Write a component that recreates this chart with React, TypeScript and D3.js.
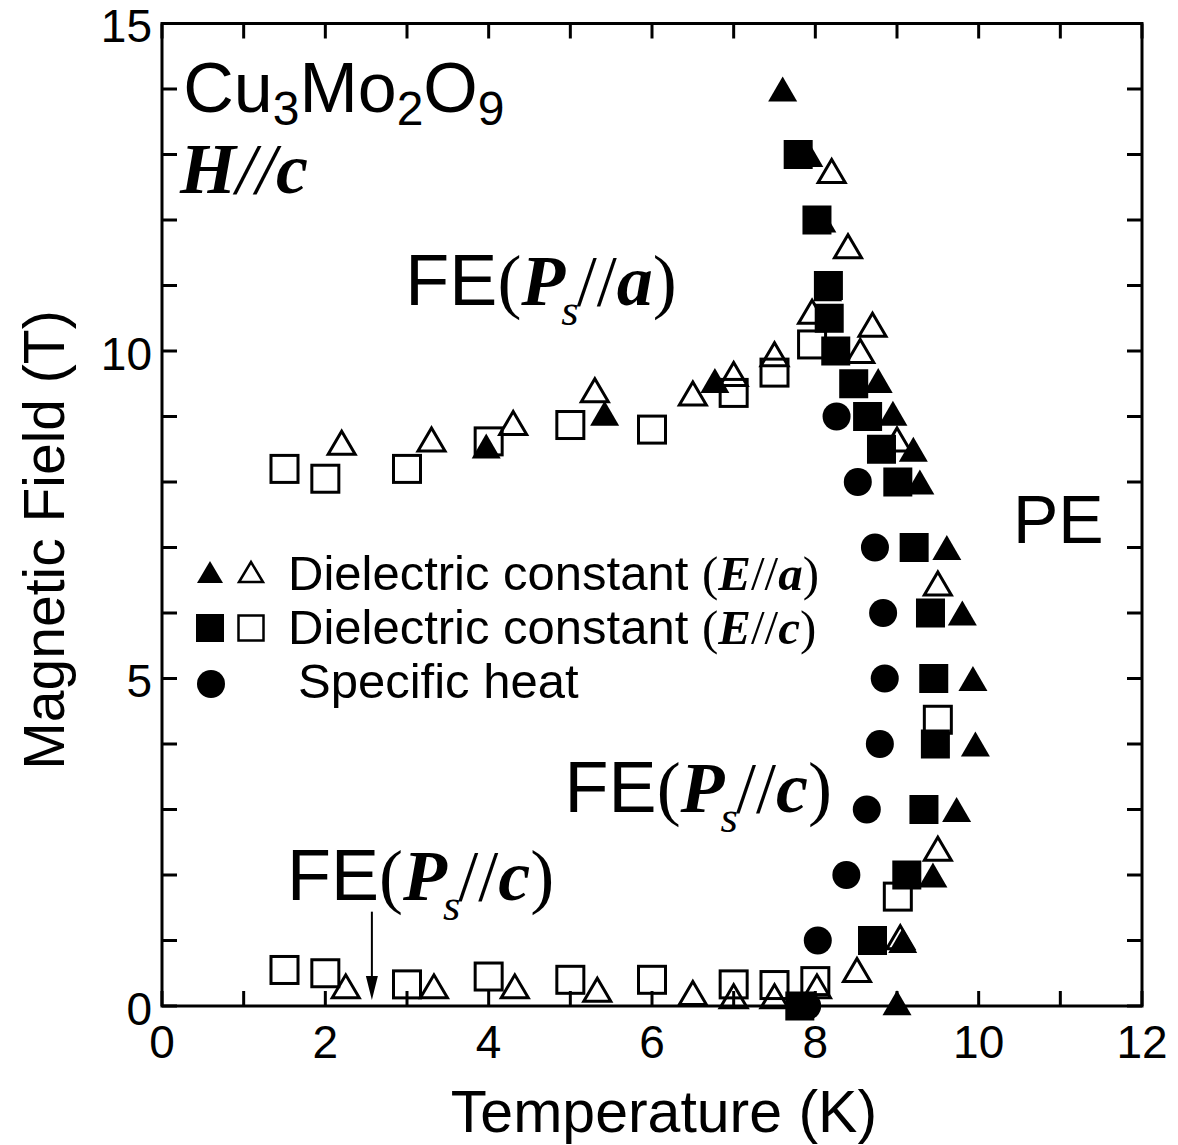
import React from "react";
import * as d3 from "d3";

// ---- data (T in K, H in Tesla) ----
const filledTriT = [7.6, 7.92, 8.08, 8.15, 6.77, 5.42, 3.97, 8.77, 8.95, 9.2, 9.28, 9.61, 9.8, 9.93, 9.96, 9.73, 9.44, 9.07, 9.0];
const filledTriH = [14.0, 13.0, 12.0, 10.95, 9.55, 9.05, 8.55, 9.55, 9.05, 8.5, 8.0, 7.0, 6.0, 5.0, 4.0, 3.0, 2.0, 1.0, 0.05];

const openTriT = [8.2, 8.4, 7.96, 8.7, 8.55, 7.5, 7.0, 6.5, 5.3, 4.3, 3.3, 2.2, 9.0, 9.5, 9.5, 9.04, 8.51, 8.02, 7.5, 7.0, 6.5, 5.33, 4.32, 3.33, 2.25];
const openTriH = [12.75, 11.6, 10.6, 10.4, 10.0, 9.95, 9.65, 9.35, 9.4, 8.9, 8.65, 8.6, 8.65, 6.45, 2.4, 1.05, 0.55, 0.3, 0.15, 0.15, 0.2, 0.25, 0.3, 0.3, 0.3];

const filledSqT = [7.79, 8.02, 8.16, 8.17, 8.25, 8.47, 8.64, 8.81, 9.01, 9.21, 9.41, 9.45, 9.47, 9.33, 9.12, 8.7, 7.81];
const filledSqH = [13, 12, 11, 10.5, 10, 9.5, 9, 8.5, 8, 7, 6, 5, 4, 3, 2, 1, 0];

const openSqT = [1.5, 2.0, 3.0, 4.0, 5.0, 6.0, 7.0, 7.5, 7.96, 9.5, 9.01, 1.5, 2.0, 3.0, 4.0, 5.0, 6.0, 7.0, 7.5, 8.0];
const openSqH = [8.2, 8.05, 8.2, 8.62, 8.87, 8.8, 9.36, 9.67, 10.1, 4.37, 1.67, 0.55, 0.5, 0.33, 0.45, 0.4, 0.4, 0.33, 0.32, 0.38];

const circleT = [8.26, 8.52, 8.73, 8.83, 8.85, 8.79, 8.63, 8.38, 8.03, 7.9];
const circleH = [9, 8, 7, 6, 5, 4, 3, 2, 1, 0];

const xTickLabels = [0, 2, 4, 6, 8, 10, 12];
const yTickLabels = [0, 5, 10, 15];

const arrowT = 2.57;
const arrowH = [1.44, 0.09];

const W = 1178;
const H = 1145;
const SANS = "'Liberation Sans', Arial, Helvetica, sans-serif";
const SERIF = "'Liberation Serif', 'Times New Roman', Times, serif";

const x = d3.scaleLinear().domain([0, 12]).range([162, 1142]);
const y = d3.scaleLinear().domain([0, 15]).range([1006, 23.5]);

const triPath = (cx: number, cy: number, w: number, h: number) =>
  `M${cx - w / 2},${cy + h / 2}L${cx + w / 2},${cy + h / 2}L${cx},${cy - h / 2}Z`;

const zip = (a: number[], b: number[]) => a.map((v, i) => [v, b[i]] as [number, number]);

function FELabel({ px, py, fs, axis }: { px: number; py: number; fs: number; axis: string }) {
  const sub = fs * 0.62;
  const dy = fs * 0.28;
  return (
    <text x={px} y={py} fontSize={fs} fill="#000">
      <tspan fontFamily={SANS}>FE</tspan>
      <tspan fontFamily={SERIF}>(</tspan>
      <tspan fontFamily={SERIF} fontStyle="italic" fontWeight="bold">P</tspan>
      <tspan fontFamily={SERIF} fontStyle="italic" fontSize={sub} dy={dy} dx={-4}>s</tspan>
      <tspan fontFamily={SERIF} fontSize={fs} dy={-dy} dx={-2}>//</tspan>
      <tspan fontFamily={SERIF} fontStyle="italic" fontWeight="bold">{axis}</tspan>
      <tspan fontFamily={SERIF}>)</tspan>
    </text>
  );
}

export default function App() {
  const xMinor = d3.range(0, 13, 1);
  const yMinor = d3.range(0, 16, 1);
  const tick = 15;
  const [x0, x1] = x.range();
  const [y0, y1] = y.range();

  const triW = 27, triH = 23, sq = 29, sqOpen = 27, r = 14;

  const legendRows = [
    { my: 572, ty: 590, kind: "tri", label: "a" },
    { my: 628, ty: 644, kind: "sq", label: "c" },
  ];

  return (
    <svg width={W} height={H} style={{ position: "absolute", left: 0, top: 0, background: "#fff" }}>
      <rect x={0} y={0} width={W} height={H} fill="#fff" />
      {/* frame */}
      <rect x={x0} y={y1} width={x1 - x0} height={y0 - y1} fill="none" stroke="#000" strokeWidth={3} />
      {/* ticks */}
      {xMinor.map((t) => (
        <g key={"xt" + t}>
          <line x1={x(t)} x2={x(t)} y1={y0} y2={y0 - tick} stroke="#000" strokeWidth={3} />
          <line x1={x(t)} x2={x(t)} y1={y1} y2={y1 + tick} stroke="#000" strokeWidth={3} />
        </g>
      ))}
      {yMinor.map((t) => (
        <g key={"yt" + t}>
          <line x1={x0} x2={x0 + tick} y1={y(t)} y2={y(t)} stroke="#000" strokeWidth={3} />
          <line x1={x1} x2={x1 - tick} y1={y(t)} y2={y(t)} stroke="#000" strokeWidth={3} />
        </g>
      ))}
      {/* tick labels */}
      {xTickLabels.map((t) => (
        <text key={"xl" + t} x={x(t)} y={1058} textAnchor="middle" fontFamily={SANS} fontSize={46}>
          {t}
        </text>
      ))}
      {yTickLabels.map((t) => (
        <text key={"yl" + t} x={152} y={y(t) + 2} dy="0.36em" textAnchor="end" fontFamily={SANS} fontSize={46}>
          {t}
        </text>
      ))}
      {/* axis titles */}
      <text x={664} y={1132} textAnchor="middle" fontFamily={SANS} fontSize={59}>
        Temperature (K)
      </text>
      <text transform={`translate(64,540) rotate(-90)`} textAnchor="middle" fontFamily={SANS} fontSize={57}>
        Magnetic Field (T)
      </text>

      {/* data: open squares */}
      {zip(openSqT, openSqH).map(([t, h], i) => (
        <rect key={"os" + i} x={x(t) - sqOpen / 2} y={y(h) - sqOpen / 2} width={sqOpen} height={sqOpen}
          fill="none" stroke="#000" strokeWidth={3} />
      ))}
      {/* open triangles */}
      {zip(openTriT, openTriH).map(([t, h], i) => (
        <path key={"ot" + i} d={triPath(x(t), y(h), triW, triH)} fill="none" stroke="#000" strokeWidth={3}
          strokeLinejoin="miter" />
      ))}
      {/* filled triangles */}
      {zip(filledTriT, filledTriH).map(([t, h], i) => (
        <path key={"ft" + i} d={triPath(x(t), y(h), triW + 2, triH + 2)} fill="#000" />
      ))}
      {/* filled squares */}
      {zip(filledSqT, filledSqH).map(([t, h], i) => (
        <rect key={"fs" + i} x={x(t) - sq / 2} y={y(h) - sq / 2} width={sq} height={sq} fill="#000" />
      ))}
      {/* circles */}
      {zip(circleT, circleH).map(([t, h], i) => (
        <circle key={"c" + i} cx={x(t)} cy={y(h)} r={r} fill="#000" />
      ))}

      {/* arrow */}
      <line x1={x(arrowT)} x2={x(arrowT)} y1={y(arrowH[0])} y2={y(arrowH[1]) - 20} stroke="#000" strokeWidth={2} />
      <path d={`M${x(arrowT) - 6},${y(arrowH[1]) - 24}L${x(arrowT) + 6},${y(arrowH[1]) - 24}L${x(arrowT)},${y(arrowH[1])}Z`} fill="#000" />

      {/* annotations */}
      <text x={x(0.26)} y={y(13.65)} fontFamily={SANS} fontSize={70}>
        Cu<tspan fontSize={48} dy={13}>3</tspan>
        <tspan dy={-13}>Mo</tspan>
        <tspan fontSize={48} dy={13}>2</tspan>
        <tspan dy={-13}>O</tspan>
        <tspan fontSize={48} dy={13}>9</tspan>
      </text>
      <text x={x(0.22)} y={y(12.41)} fontFamily={SERIF} fontStyle="italic" fontWeight="bold" fontSize={72}>
        H<tspan fontWeight="normal">//</tspan>c
      </text>
      <FELabel px={x(2.98)} py={y(10.7)} fs={72} axis="a" />
      <FELabel px={x(4.93)} py={y(2.96)} fs={72} axis="c" />
      <FELabel px={x(1.53)} py={y(1.62)} fs={72} axis="c" />
      <text x={x(10.42)} y={y(7.07)} fontFamily={SANS} fontSize={68}>PE</text>

      {/* legend */}
      {legendRows.map((row) => (
        <g key={row.label}>
          {row.kind === "tri" ? (
            <>
              <path d={triPath(210, row.my, 26, 22)} fill="#000" />
              <path d={triPath(251, row.my, 24, 20)} fill="none" stroke="#000" strokeWidth={2.5} />
            </>
          ) : (
            <>
              <rect x={210 - 14} y={row.my - 14} width={28} height={28} fill="#000" />
              <rect x={251 - 12.5} y={row.my - 12.5} width={25} height={25} fill="none" stroke="#000" strokeWidth={2.5} />
            </>
          )}
          <text x={288} y={row.ty} fontSize={49}>
            <tspan fontFamily={SANS}>Dielectric constant </tspan>
            <tspan fontFamily={SERIF}>(</tspan>
            <tspan fontFamily={SERIF} fontStyle="italic" fontWeight="bold">E</tspan>
            <tspan fontFamily={SERIF}>//</tspan>
            <tspan fontFamily={SERIF} fontStyle="italic" fontWeight="bold">{row.label}</tspan>
            <tspan fontFamily={SERIF}>)</tspan>
          </text>
        </g>
      ))}
      <circle cx={211} cy={684} r={14} fill="#000" />
      <text x={298} y={698} fontFamily={SANS} fontSize={49}>Specific heat</text>
    </svg>
  );
}
